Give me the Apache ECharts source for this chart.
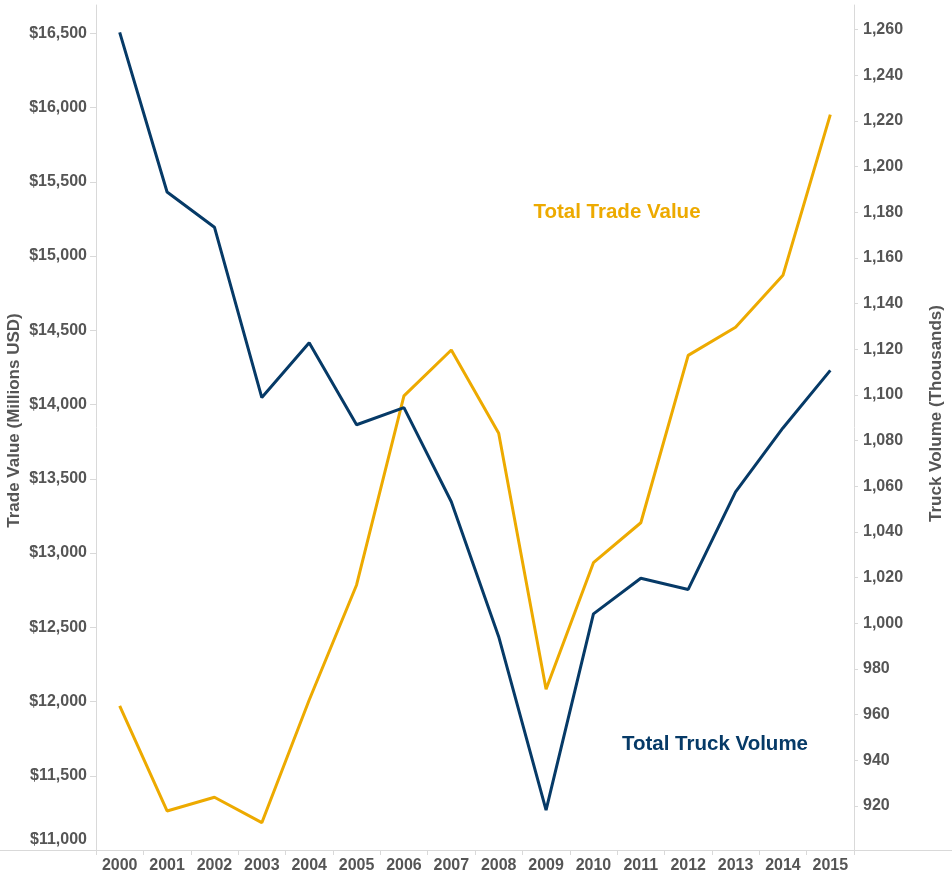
<!DOCTYPE html>
<html>
<head>
<meta charset="utf-8">
<script src="https://cdn.jsdelivr.net/npm/echarts@6/dist/echarts.min.js"></script>
<style>
  html, body { margin: 0; padding: 0; background: #ffffff; }
  #chart { width: 952px; height: 874px; }
</style>
</head>
<body>
<div id="chart"></div>
<script>
// ---- data ----
const years = ['2000','2001','2002','2003','2004','2005','2006','2007','2008','2009','2010','2011','2012','2013','2014','2015'];
const tradeValue = [11970, 11263, 11355, 11184, 12010, 12785, 14058, 14367, 13806, 12082, 12935, 13204, 14331, 14520, 14870, 15952];
const truckVolume = [1258.7, 1188.8, 1173.4, 1098.8, 1122.8, 1086.9, 1094.4, 1053.2, 994.1, 918.2, 1004.1, 1019.7, 1014.8, 1057.5, 1085.5, 1110.7];
const leftTicks = [11000, 11500, 12000, 12500, 13000, 13500, 14000, 14500, 15000, 15500, 16000, 16500];
const rightTicks = [920, 940, 960, 980, 1000, 1020, 1040, 1060, 1080, 1100, 1120, 1140, 1160, 1180, 1200, 1220, 1240, 1260];

const FONT = 'Arial, "Liberation Sans", sans-serif';
const LABEL = '#555555';
const AXIS = '#d9d9d9';
const GOLD = '#edaa00';
const NAVY = '#063a67';

const chart = echarts.init(document.getElementById('chart'), null, { renderer: 'canvas' });

chart.setOption({
  animation: false,
  backgroundColor: '#ffffff',
  grid: { left: 96, right: 98, top: 5, bottom: 24, containLabel: false, outerBoundsMode: 'none' },
  xAxis: {
    type: 'category',
    data: years,
    boundaryGap: true,
    axisLine: { show: false },
    axisTick: { show: true, alignWithLabel: false, interval: 0, length: 5, lineStyle: { color: AXIS } },
    axisLabel: { interval: 0, margin: 8, color: LABEL, fontSize: 16, fontWeight: 'bold', fontFamily: FONT },
    splitLine: { show: false }
  },
  yAxis: [
    {
      type: 'value',
      position: 'left',
      min: 11000,
      max: 16690.7,
      name: 'Trade Value (Millions USD)',
      nameLocation: 'middle',
      nameGap: 73,
      nameMoveOverlap: false,
      nameTextStyle: { color: LABEL, fontSize: 17, fontWeight: 'bold', fontFamily: FONT, padding: [0, 0, 0, 14] },
      axisLine: { show: true, lineStyle: { color: AXIS } },
      axisTick: { show: true, length: 6, lineStyle: { color: AXIS }, customValues: leftTicks.slice(1) },
      axisLabel: {
        color: LABEL, fontSize: 16, fontWeight: 'bold', fontFamily: FONT, margin: 9,
        customValues: leftTicks,
        formatter: function (v) {
          const s = '$' + Number(v).toLocaleString('en-US');
          return v === 11000 ? '{low|' + s + '}' : s;
        },
        rich: {
          low: { color: LABEL, fontSize: 16, fontWeight: 'bold', fontFamily: FONT, padding: [0, 0, 20, 0] }
        }
      },
      splitLine: { show: false }
    },
    {
      type: 'value',
      position: 'right',
      min: 900.7,
      max: 1270.7,
      name: 'Truck Volume (Thousands)',
      nameLocation: 'middle',
      nameGap: 74,
      nameRotate: 90,
      nameMoveOverlap: false,
      nameTextStyle: { color: LABEL, fontSize: 17, fontWeight: 'bold', fontFamily: FONT, padding: [0, 0, 0, 28] },
      axisLine: { show: true, lineStyle: { color: AXIS } },
      axisTick: { show: true, length: 4, lineStyle: { color: AXIS }, customValues: rightTicks },
      axisLabel: {
        color: LABEL, fontSize: 16, fontWeight: 'bold', fontFamily: FONT, margin: 9,
        customValues: rightTicks,
        formatter: function (v) { return Number(v).toLocaleString('en-US'); }
      },
      splitLine: { show: false }
    }
  ],
  series: [
    {
      name: 'Total Trade Value',
      type: 'line',
      yAxisIndex: 0,
      data: tradeValue,
      symbol: 'none',
      smooth: false,
      lineStyle: { color: GOLD, width: 3 },
      itemStyle: { color: GOLD },
      z: 2
    },
    {
      name: 'Total Truck Volume',
      type: 'line',
      yAxisIndex: 1,
      data: truckVolume,
      symbol: 'none',
      smooth: false,
      lineStyle: { color: NAVY, width: 3 },
      itemStyle: { color: NAVY },
      z: 3
    }
  ],
  graphic: [
    { type: 'line', shape: { x1: 0, y1: 850.5, x2: 952, y2: 850.5 }, style: { stroke: AXIS, lineWidth: 1 }, z: 1 },
    { type: 'text', x: 617, y: 212, style: { text: 'Total Trade Value', fill: GOLD, font: 'bold 20.5px ' + FONT, align: 'center', verticalAlign: 'middle' } },
    { type: 'text', x: 715, y: 744, style: { text: 'Total Truck Volume', fill: NAVY, font: 'bold 20.5px ' + FONT, align: 'center', verticalAlign: 'middle' } }
  ]
});
</script>
</body>
</html>
